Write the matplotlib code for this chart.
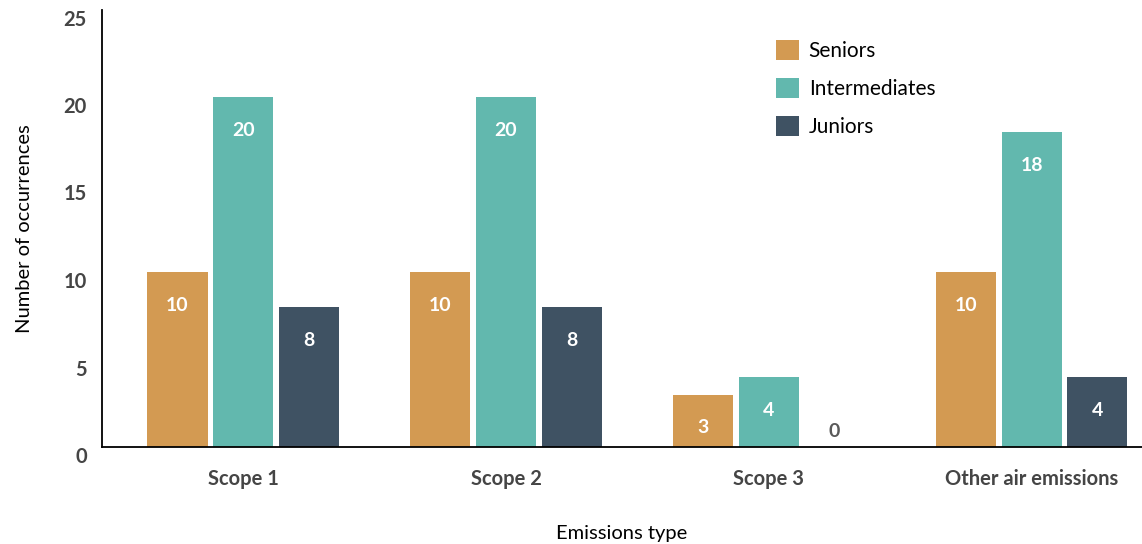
import matplotlib
matplotlib.use("Agg")
import matplotlib.pyplot as plt
import matplotlib.transforms as mtransforms
import numpy as np

# Data
categories = ["Scope 1", "Scope 2", "Scope 3", "Other air emissions"]
series_names = ["Seniors", "Intermediates", "Juniors"]
seniors = [10, 10, 3, 10]
intermediates = [20, 20, 4, 18]
juniors = [8, 8, 0, 4]
y_ticks = [0, 5, 10, 15, 20, 25]

colors = ["#D39A52", "#62B8AE", "#3F5263"]
plt.rcParams["font.family"] = ["Lato", "DejaVu Sans"]

fig = plt.figure(figsize=(11.42, 5.44), dpi=100)
ax = fig.add_axes([102 / 1142, 1 - 447 / 544, 1 - 102 / 1142, (447 - 9.5) / 544])

x = np.arange(len(categories))
offset = 0.25
width = 0.229
for i, (name, vals) in enumerate(zip(series_names, [seniors, intermediates, juniors])):
    xs = x + (i - 1) * offset
    ax.bar(xs, vals, width=width, color=colors[i], label=name, zorder=2)
    for xi, v in zip(xs, vals):
        if v > 0:
            ax.annotate(str(v), xy=(xi, v), xytext=(0, -24), textcoords="offset points",
                        ha="center", va="center", color="white", fontsize=14,
                        fontweight="bold", zorder=3)
        else:
            ax.annotate(str(v), xy=(xi, v), xytext=(0, 11), textcoords="offset points",
                        ha="center", va="center", color="#5a5a5a", fontsize=14,
                        fontweight="bold", zorder=3)

ax.set_xlim(-0.537, 3.42)
ax.set_ylim(0, 25)
ax.set_yticks(y_ticks)
ax.set_yticklabels([str(t) for t in y_ticks])
ax.set_xticks(x)
ax.set_xticklabels(categories)

for spine in ["top", "right"]:
    ax.spines[spine].set_visible(False)
for spine in ["left", "bottom"]:
    ax.spines[spine].set_color("black")
    ax.spines[spine].set_linewidth(1.3)

ax.tick_params(axis="both", length=0, labelsize=14.5, labelcolor="#454545")
ax.tick_params(axis="x", pad=16)
ax.tick_params(axis="y", pad=11)
for lbl in ax.get_xticklabels() + ax.get_yticklabels():
    lbl.set_fontweight("bold")
# nudge the y tick labels slightly below their ticks
shift = mtransforms.ScaledTranslation(0, -8 / 100, fig.dpi_scale_trans)
for lbl in ax.get_yticklabels():
    lbl.set_transform(lbl.get_transform() + shift)

ax.set_ylabel("Number of occurrences", fontsize=14.5, color="black", labelpad=22)
ax.set_xlabel("Emissions type", fontsize=14.5, color="black", labelpad=26)

leg = ax.legend(loc="upper left", bbox_to_anchor=(0.6405, 0.95), frameon=False,
                fontsize=15, handlelength=1.1, handleheight=1.1, handletextpad=0.45,
                labelspacing=0.82, borderaxespad=0)

fig.savefig("out.png", dpi=100, facecolor="white")
